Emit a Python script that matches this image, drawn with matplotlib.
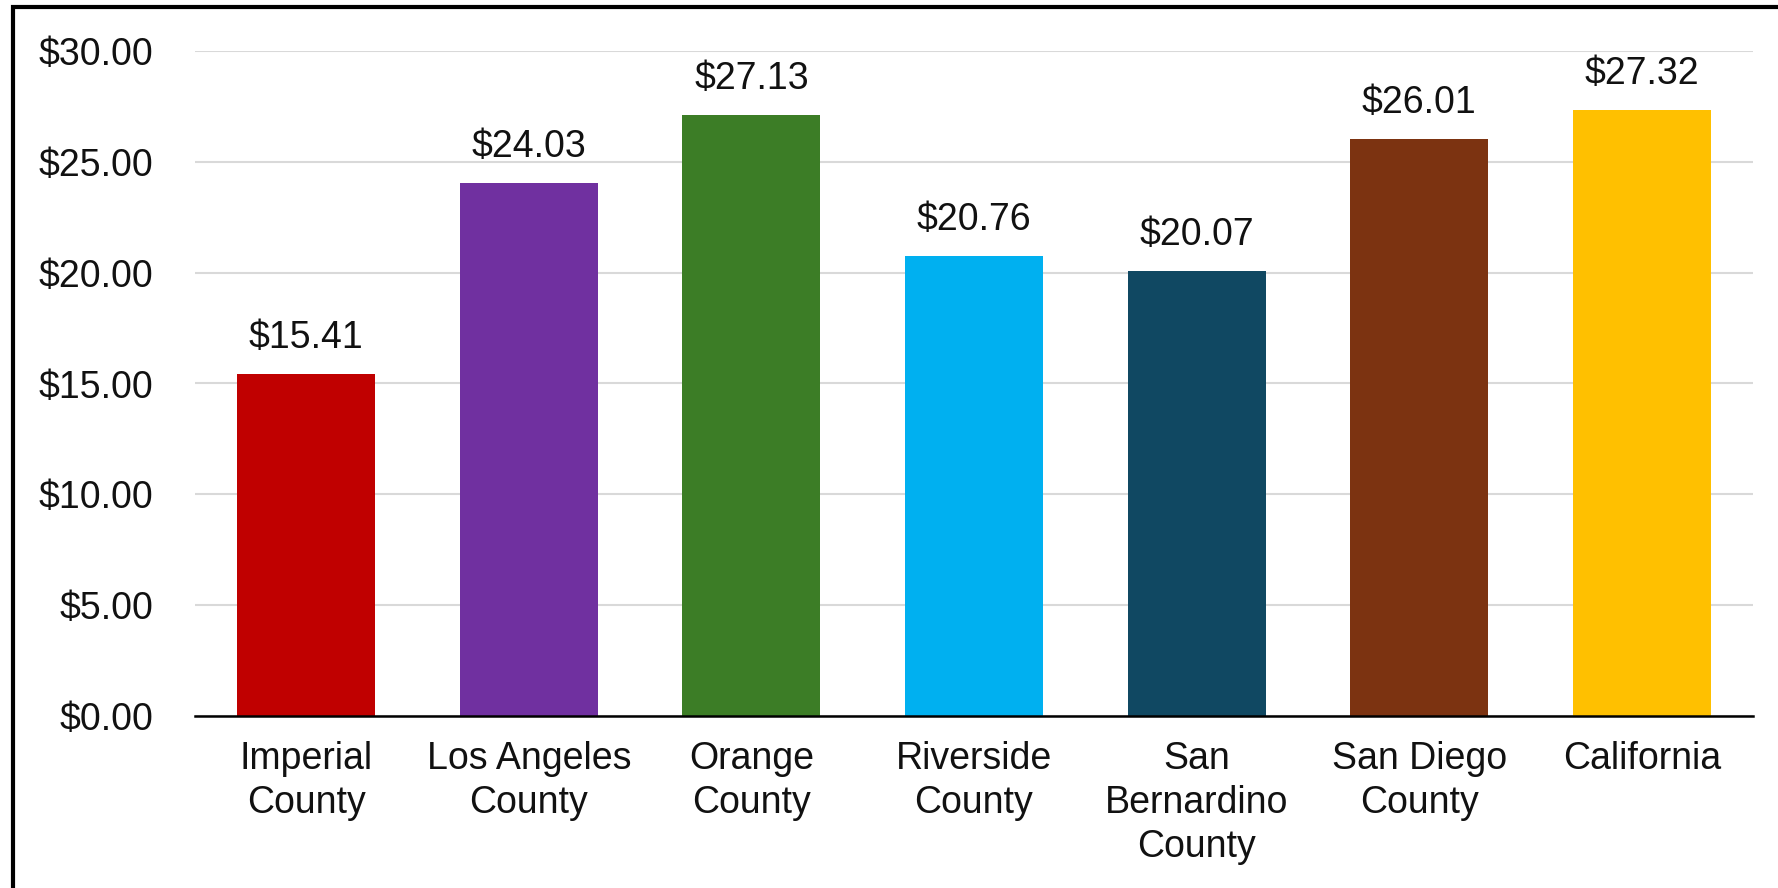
import matplotlib
matplotlib.use("Agg")
import matplotlib.pyplot as plt
import matplotlib.ticker as mticker
from matplotlib.patches import Rectangle

plt.rcParams["font.family"] = ["Liberation Sans", "DejaVu Sans"]

categories = ["Imperial\nCounty", "Los Angeles\nCounty", "Orange\nCounty",
              "Riverside\nCounty", "San\nBernardino\nCounty", "San Diego\nCounty",
              "California"]
wages = [15.41, 24.03, 27.13, 20.76, 20.07, 26.01, 27.32]
colors = ["#C00000", "#7030A0", "#3C7D26", "#00B0F0", "#104862", "#7C3311", "#FFC000"]
yticks = [0, 5, 10, 15, 20, 25, 30]

W, H = 1778, 888
fig = plt.figure(figsize=(W / 100, H / 100), dpi=100)
ax = fig.add_axes([195 / W, 1 - 716 / H, (1753 - 195) / W, (716 - 51) / H])

x = range(len(categories))
bars = ax.bar(x, wages, width=0.62, color=colors, zorder=3)

for bar, val in zip(bars, wages):
    ax.annotate(f"${val:.2f}", (bar.get_x() + bar.get_width() / 2, bar.get_height()),
                xytext=(0, 13), textcoords="offset points",
                ha="center", va="bottom", fontsize=27, color="#111111")

ax.set_xlim(-0.5, len(categories) - 0.5)
ax.set_ylim(0, 30)
ax.set_yticks(yticks)
ax.yaxis.set_major_formatter(mticker.FuncFormatter(lambda v, _: f"${v:.2f}"))
ax.set_xticks(list(x))
ax.set_xticklabels(categories, fontsize=27, color="#111111", linespacing=1.28)
ax.tick_params(axis="y", labelsize=27, labelcolor="#111111", length=0, pad=30)
ax.tick_params(axis="x", length=0, pad=18)

ax.grid(axis="y", color="#D9D9D9", linewidth=1.5, zorder=0)
for side in ["top", "right", "left"]:
    ax.spines[side].set_visible(False)
ax.spines["bottom"].set_linewidth(1.8)
ax.spines["bottom"].set_color("#000000")
ax.spines["bottom"].set_zorder(4)

# outer frame, clipped at the right and bottom like the original
fig.patches.append(Rectangle((13 / W, -0.1), 1.2, 1 - 7 / H + 0.1,
                             transform=fig.transFigure, fill=False,
                             edgecolor="black", linewidth=3))

fig.savefig("out.png", dpi=100)
